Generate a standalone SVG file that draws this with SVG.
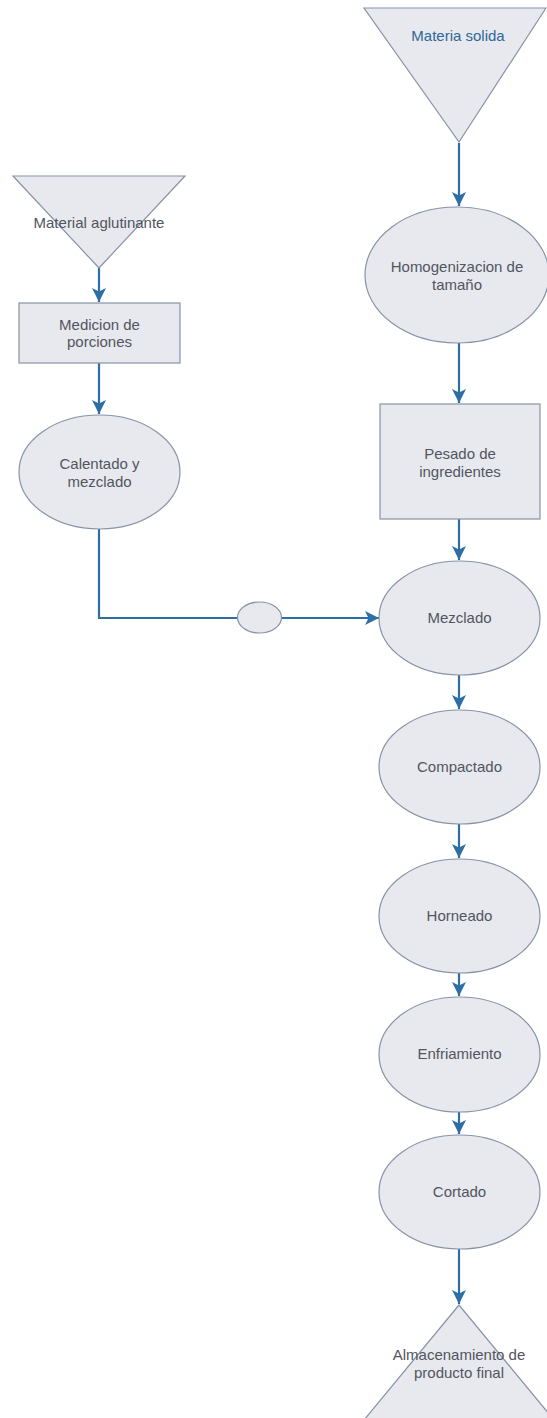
<svg xmlns="http://www.w3.org/2000/svg" width="547" height="1418" viewBox="0 0 547 1418">
<defs>
<style>
.shape{fill:#e8e9ee;stroke:#8793a6;stroke-width:1.2}
.lbl{font-family:"Liberation Sans",Arial,sans-serif;font-size:15px;fill:#51555f;text-anchor:middle}
.blue{fill:#2f6797}
.conn{fill:none;stroke:#2d6ea4;stroke-width:2.2}
</style>
<marker id="arr" markerUnits="userSpaceOnUse" markerWidth="14" markerHeight="14" viewBox="0 0 12 12" refX="12" refY="6" orient="auto">
<path d="M0,0 L12,6 L0,12 L3,6 z" fill="#2d6ea4"/>
</marker>
</defs>
<rect width="547" height="1418" fill="#ffffff"/>
<g id="connectors">
<line class="conn" x1="459" y1="143" x2="459" y2="206" marker-end="url(#arr)"/>
<line class="conn" x1="459" y1="343" x2="459" y2="403" marker-end="url(#arr)"/>
<line class="conn" x1="459" y1="519" x2="459" y2="560" marker-end="url(#arr)"/>
<line class="conn" x1="459" y1="675" x2="459" y2="709" marker-end="url(#arr)"/>
<line class="conn" x1="459" y1="824" x2="459" y2="858" marker-end="url(#arr)"/>
<line class="conn" x1="459" y1="973" x2="459" y2="996" marker-end="url(#arr)"/>
<line class="conn" x1="459" y1="1112" x2="459" y2="1134" marker-end="url(#arr)"/>
<line class="conn" x1="459" y1="1249" x2="459" y2="1304" marker-end="url(#arr)"/>
<line class="conn" x1="99" y1="268" x2="99" y2="302" marker-end="url(#arr)"/>
<line class="conn" x1="99" y1="363" x2="99" y2="414" marker-end="url(#arr)"/>
<polyline class="conn" points="99,529 99,618 238,618"/>
<line class="conn" x1="281" y1="618" x2="379" y2="618" marker-end="url(#arr)"/>
</g>
<g id="materia-solida">
<polygon class="shape" points="364,8 546,8 459,142"/>
<text class="lbl blue" x="458" y="41">Materia solida</text>
</g>
<g id="homogenizacion">
<ellipse class="shape" cx="457" cy="275" rx="92" ry="68"/>
<text class="lbl" x="457" y="272">Homogenizacion de</text>
<text class="lbl" x="457" y="290">tamaño</text>
</g>
<g id="pesado">
<rect class="shape" x="380" y="404" width="160" height="115"/>
<text class="lbl" x="460" y="459">Pesado de</text>
<text class="lbl" x="460" y="477">ingredientes</text>
</g>
<g id="mezclado">
<ellipse class="shape" cx="459.5" cy="618" rx="80.5" ry="57"/>
<text class="lbl" x="459.5" y="623">Mezclado</text>
</g>
<g id="compactado">
<ellipse class="shape" cx="459.5" cy="767" rx="80.5" ry="57"/>
<text class="lbl" x="459.5" y="772">Compactado</text>
</g>
<g id="horneado">
<ellipse class="shape" cx="459.5" cy="916" rx="80.5" ry="57"/>
<text class="lbl" x="459.5" y="921">Horneado</text>
</g>
<g id="enfriamiento">
<ellipse class="shape" cx="459.5" cy="1054.5" rx="80.5" ry="57.5"/>
<text class="lbl" x="459.5" y="1059">Enfriamiento</text>
</g>
<g id="cortado">
<ellipse class="shape" cx="459.5" cy="1192" rx="80.5" ry="57"/>
<text class="lbl" x="459.5" y="1197">Cortado</text>
</g>
<g id="almacenamiento">
<polygon class="shape" points="459,1305 364,1420 554,1420"/>
<text class="lbl" x="459" y="1360">Almacenamiento de</text>
<text class="lbl" x="459" y="1378">producto final</text>
</g>
<g id="material-aglutinante">
<polygon class="shape" points="13,176 185,176 99,268"/>
<text class="lbl" x="99" y="228">Material aglutinante</text>
</g>
<g id="medicion">
<rect class="shape" x="19" y="303" width="161" height="60"/>
<text class="lbl" x="99.5" y="330">Medicion de</text>
<text class="lbl" x="99.5" y="347">porciones</text>
</g>
<g id="calentado">
<ellipse class="shape" cx="99.5" cy="472" rx="80.5" ry="57"/>
<text class="lbl" x="99.5" y="469">Calentado y</text>
<text class="lbl" x="99.5" y="487">mezclado</text>
</g>
<g id="union">
<ellipse class="shape" cx="259.5" cy="617.5" rx="22" ry="15.5"/>
</g>
</svg>
